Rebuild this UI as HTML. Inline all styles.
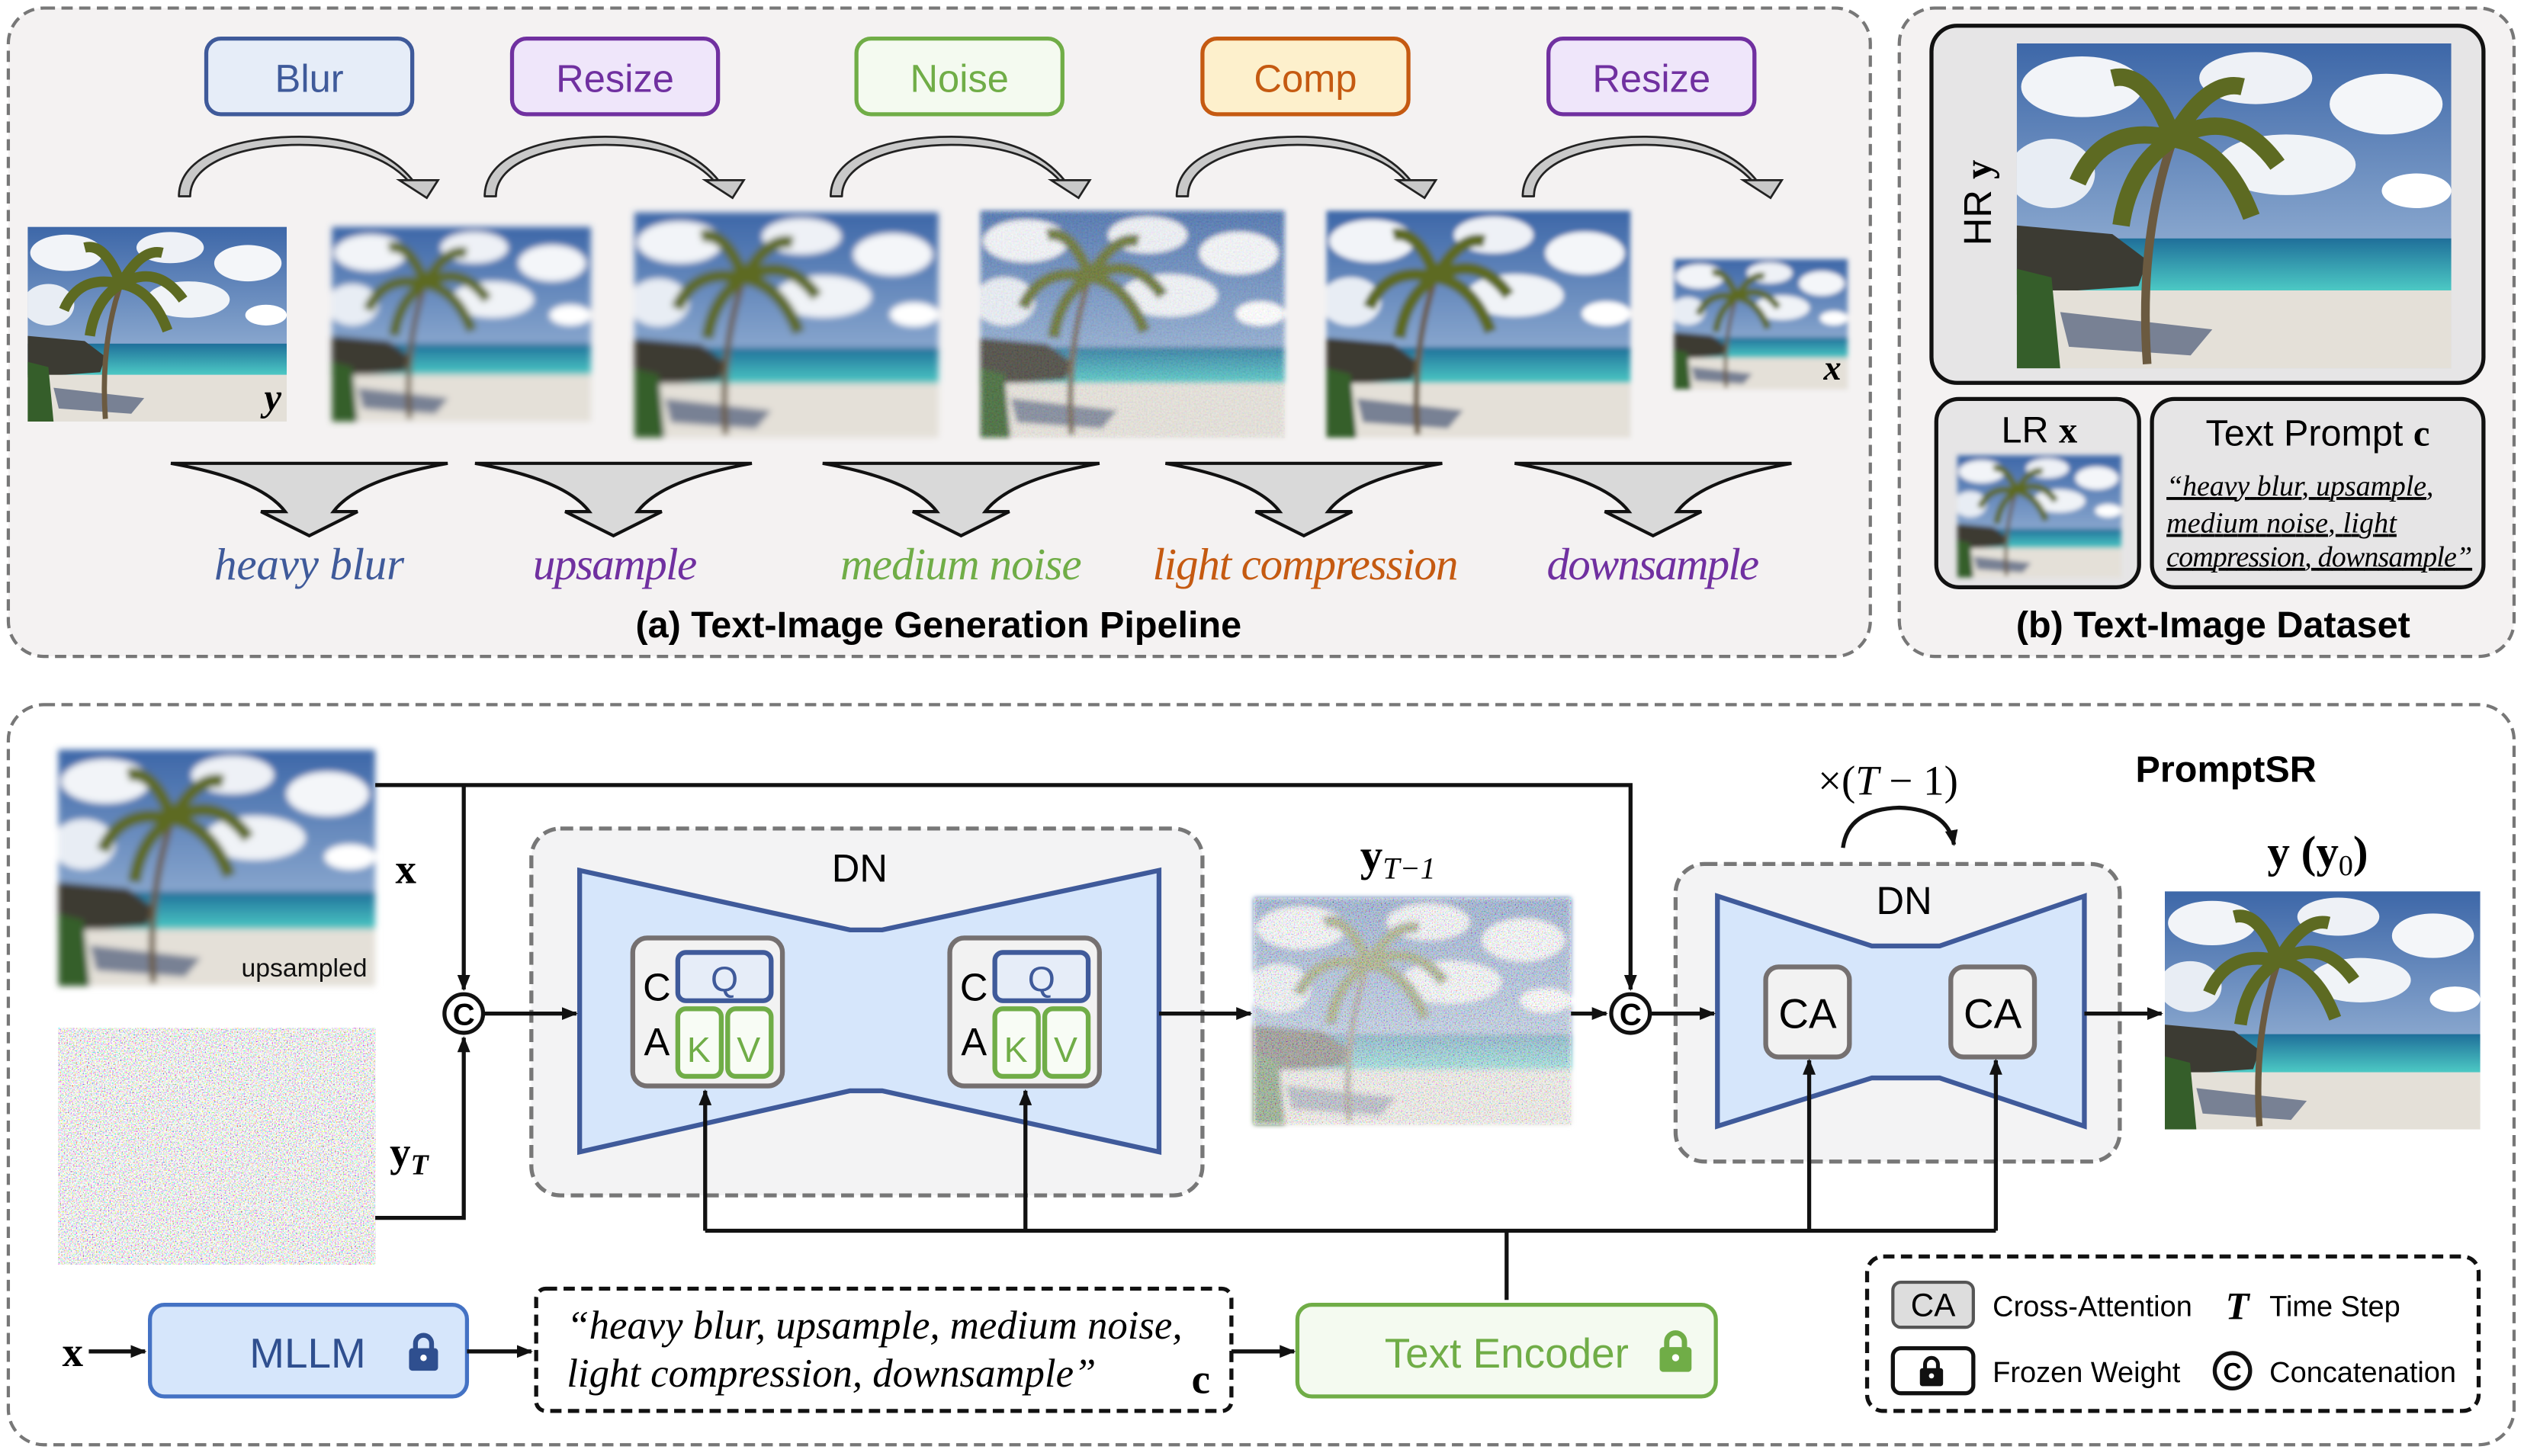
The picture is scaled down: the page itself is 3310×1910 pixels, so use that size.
<!DOCTYPE html>
<html><head><meta charset="utf-8"><style>html,body{margin:0;padding:0;background:#fff}svg{display:block}</style></head>
<body>
<svg width="3310" height="1910" viewBox="0 0 1568 905" xmlns="http://www.w3.org/2000/svg" font-family="Liberation Sans, sans-serif">
<defs>
<linearGradient id="sky" x1="0" y1="0" x2="0" y2="1"><stop offset="0" stop-color="#3d67a8"/><stop offset="1" stop-color="#b9cfe6"/></linearGradient>
<linearGradient id="sea" x1="0" y1="0" x2="0" y2="1"><stop offset="0" stop-color="#1f6f9a"/><stop offset="1" stop-color="#4cc9c4"/></linearGradient>
<symbol id="beach" viewBox="0 0 100 75" preserveAspectRatio="none">
<rect width="100" height="75" fill="url(#sky)"/>
<ellipse cx="15" cy="10" rx="14" ry="7" fill="#f2f4f8"/><ellipse cx="55" cy="8" rx="13" ry="6" fill="#eef1f6"/>
<ellipse cx="85" cy="14" rx="13" ry="7" fill="#f4f6f9"/><ellipse cx="8" cy="30" rx="10" ry="8" fill="#e8edf4"/>
<ellipse cx="62" cy="28" rx="16" ry="7" fill="#f0f3f7"/><ellipse cx="92" cy="34" rx="8" ry="4" fill="#fff"/>
<rect y="45" width="100" height="12" fill="url(#sea)"/>
<path d="M0 42 L22 44 L30 50 L28 56 L0 58Z" fill="#3c3b33"/>
<rect y="57" width="100" height="18" fill="#e4e0d8"/>
<path d="M0 52 L8 54 L10 75 L0 75Z" fill="#355e2a"/>
<path d="M10 62 L45 66 L40 72 L12 70Z" fill="#4a5878" opacity=".7"/>
<path d="M30 74 Q28 45 36 22" stroke="#6b5a40" stroke-width="2" fill="none"/>
<path d="M36 22 Q20 18 14 32 M36 22 Q50 14 60 28 M36 22 Q30 6 22 8 M36 22 Q44 8 52 10 M36 22 Q48 24 54 40 M36 22 Q26 28 24 42" stroke="#5d6a22" stroke-width="4" fill="none"/>
</symbol>
<filter id="b1"><feGaussianBlur stdDeviation="2"/></filter>
<filter id="b2"><feGaussianBlur stdDeviation="1.5"/></filter>
<filter id="nz" x="0" y="0" width="100%" height="100%"><feTurbulence type="fractalNoise" baseFrequency="0.9" numOctaves="2" seed="3"/><feColorMatrix type="matrix" values="1.6 0 0 0 -0.1  0 1.6 0 0 -0.1  0 0 1.6 0 -0.1  0 0 0 0 0.55"/></filter>
<filter id="nz2" x="0" y="0" width="100%" height="100%"><feTurbulence type="fractalNoise" baseFrequency="1.2" numOctaves="1" seed="7"/><feColorMatrix type="matrix" values="3 0 0 0 -0.6  0 3 0 0 -0.6  0 0 3 0 -0.6  0 0 0 0 1"/></filter>
<marker id="ah" markerWidth="10" markerHeight="10" refX="9" refY="5" orient="auto" markerUnits="userSpaceOnUse"><path d="M0 1 L10 5 L0 9Z" fill="#111"/></marker>
<symbol id="lock" viewBox="0 0 20 24"><path d="M5 11 V7 a5 5 0 0 1 10 0 V11" fill="none" stroke="currentColor" stroke-width="3"/><rect x="1" y="10" width="18" height="14" rx="2" fill="currentColor"/><circle cx="10" cy="16" r="2" fill="#fff"/></symbol>
<g id="arc"><path d="M0 37 C0 12 35 0 75 0 C108 0 132 10 146 28 L151 28 L154 37 L140 28 L143 28 C130 13 106 5 75 5 C42 5 7 15 7 37 Z" fill="#c9c9c9" stroke="#222" stroke-width="1.3" stroke-linejoin="round"/><path d="M137 27 L161 27 L154 38Z" fill="#c9c9c9" stroke="#222" stroke-width="1.3"/></g>
<g id="fun"><path d="M-86 0 L86 0 Q30 10 15 30 L30 30 L0 45 L-30 30 L-15 30 Q-30 10 -86 0Z" fill="#d9d9d9" stroke="#111" stroke-width="2"/></g>
</defs>

<!-- panel a -->
<rect x="5" y="5" width="1157" height="403" rx="22" fill="#f4f2f2" stroke="#777" stroke-width="2" stroke-dasharray="7 4"/>
<g font-size="24" text-anchor="middle">
<rect x="128" y="24" width="128" height="47" rx="9" fill="#e6edf8" stroke="#3f5a9a" stroke-width="2.5"/><text x="192" y="57" fill="#3f5a9a">Blur</text>
<rect x="318" y="24" width="128" height="47" rx="9" fill="#efe6fa" stroke="#7030a0" stroke-width="2.5"/><text x="382" y="57" fill="#7030a0">Resize</text>
<rect x="532" y="24" width="128" height="47" rx="9" fill="#f4faf0" stroke="#70ad47" stroke-width="2.5"/><text x="596" y="57" fill="#70ad47">Noise</text>
<rect x="747" y="24" width="128" height="47" rx="9" fill="#fdf0cc" stroke="#c55a11" stroke-width="2.5"/><text x="811" y="57" fill="#c55a11">Comp</text>
<rect x="962" y="24" width="128" height="47" rx="9" fill="#efe6fa" stroke="#7030a0" stroke-width="2.5"/><text x="1026" y="57" fill="#7030a0">Resize</text>
</g>
<use href="#arc" x="111" y="85"/><use href="#arc" x="301" y="85"/><use href="#arc" x="516" y="85"/><use href="#arc" x="731" y="85"/><use href="#arc" x="946" y="85"/>
<use href="#beach" x="17" y="141" width="161" height="121"/>
<text x="164" y="255" font-family="Liberation Serif, serif" font-style="italic" font-weight="bold" font-size="24">y</text>
<g filter="url(#b1)"><use href="#beach" x="206" y="141" width="161" height="121"/></g>
<g filter="url(#b1)"><use href="#beach" x="394" y="132" width="189" height="140"/></g>
<use href="#beach" x="609" y="131" width="189" height="141" filter="url(#b2)"/><rect x="609" y="131" width="189" height="141" filter="url(#nz)" opacity=".35"/>
<use href="#beach" x="824" y="131" width="189" height="141" filter="url(#b2)"/>
<use href="#beach" x="1040" y="161" width="108" height="81" filter="url(#b2)"/>
<text x="1133" y="236" font-family="Liberation Serif, serif" font-style="italic" font-weight="bold" font-size="22">x</text>
<use href="#fun" x="192" y="288"/><use href="#fun" x="381" y="288"/><use href="#fun" x="597" y="288"/><use href="#fun" x="810" y="288"/><use href="#fun" x="1027" y="288"/>
<g font-family="Liberation Serif, serif" font-style="italic" font-size="28" text-anchor="middle">
<text x="192" y="360" fill="#3f5a9a" textLength="118">heavy blur</text><text x="382" y="360" fill="#7030a0" textLength="102">upsample</text>
<text x="597" y="360" fill="#70ad47" textLength="150">medium noise</text><text x="811" y="360" fill="#c55a11" textLength="190">light compression</text>
<text x="1027" y="360" fill="#7030a0" textLength="132">downsample</text></g>
<text x="583" y="396" font-size="23" font-weight="bold" text-anchor="middle">(a) Text-Image Generation Pipeline</text>

<!-- panel b -->
<rect x="1180" y="5" width="382" height="403" rx="22" fill="#f4f2f2" stroke="#777" stroke-width="2" stroke-dasharray="7 4"/>
<rect x="1200" y="16" width="343" height="222" rx="16" fill="#e6e5e6" stroke="#111" stroke-width="2.5"/>
<use href="#beach" x="1253" y="27" width="270" height="202"/>
<text transform="translate(1237,126) rotate(-90)" font-size="24" text-anchor="middle">HR <tspan font-family="Liberation Serif, serif" font-weight="bold">y</tspan></text>
<rect x="1203" y="248" width="126" height="117" rx="14" fill="#e6e5e6" stroke="#111" stroke-width="2.5"/>
<text x="1267" y="275" font-size="23" text-anchor="middle">LR <tspan font-family="Liberation Serif, serif" font-weight="bold">x</tspan></text>
<use href="#beach" x="1216" y="283" width="102" height="76" filter="url(#b2)"/>
<rect x="1337" y="248" width="206" height="117" rx="14" fill="#e6e5e6" stroke="#111" stroke-width="2.5"/>
<text x="1440" y="277" font-size="23" text-anchor="middle">Text Prompt <tspan font-family="Liberation Serif, serif" font-weight="bold">c</tspan></text>
<g font-family="Liberation Serif, serif" font-style="italic" font-size="18" text-decoration="underline">
<text x="1346" y="308" textLength="166">“heavy blur, upsample,</text><text x="1346" y="331" textLength="143">medium noise, light</text><text x="1346" y="352" textLength="190">compression, downsample”</text></g>
<text x="1375" y="396" font-size="23" font-weight="bold" text-anchor="middle">(b) Text-Image Dataset</text>

<!-- bottom -->
<rect x="5" y="438" width="1557" height="460" rx="22" fill="#fff" stroke="#777" stroke-width="2" stroke-dasharray="7 4"/>
<use href="#beach" x="36" y="466" width="197" height="147" filter="url(#b1)"/>
<text x="228" y="607" font-size="16" text-anchor="end" fill="#111">upsampled</text>
<text x="252" y="549" font-family="Liberation Serif, serif" font-weight="bold" font-size="26" text-anchor="middle">x</text>
<rect x="36" y="639" width="197" height="147" fill="#fff"/>
<rect x="36" y="639" width="197" height="147" filter="url(#nz2)"/>
<text x="242" y="725" font-family="Liberation Serif, serif" font-weight="bold" font-size="26">y<tspan font-style="italic" font-size="18" dy="5">T</tspan></text>

<rect x="330" y="515" width="417" height="228" rx="18" fill="#f3f3f4" stroke="#777" stroke-width="2.5" stroke-dasharray="8 4"/>
<text x="534" y="548" font-size="24" text-anchor="middle">DN</text>
<path d="M360 541 L528 578 L548 578 L720 541 L720 716 L548 678 L528 678 L360 716Z" fill="#d6e6fb" stroke="#3f5a9a" stroke-width="3"/>
<g id="cab">
<rect x="393" y="583" width="93" height="92" rx="9" fill="#f2f2f2" stroke="#757070" stroke-width="3"/>
<rect x="421" y="592" width="58" height="30" rx="5" fill="#e6edf8" stroke="#3f5a9a" stroke-width="3"/>
<rect x="421" y="627" width="27" height="42" rx="5" fill="#f8fcf5" stroke="#70ad47" stroke-width="3"/>
<rect x="452" y="627" width="27" height="42" rx="5" fill="#f8fcf5" stroke="#70ad47" stroke-width="3"/>
<text x="408" y="622" font-size="24" text-anchor="middle">C</text><text x="408" y="656" font-size="24" text-anchor="middle">A</text>
<text x="450" y="616" font-size="22" text-anchor="middle" fill="#3f5a9a">Q</text>
<text x="434" y="660" font-size="22" text-anchor="middle" fill="#70ad47">K</text>
<text x="465" y="660" font-size="22" text-anchor="middle" fill="#70ad47">V</text>
</g>
<use href="#cab" x="197"/>

<use href="#beach" x="779" y="558" width="197" height="141" filter="url(#b2)"/>
<rect x="779" y="558" width="197" height="141" filter="url(#nz2)" opacity=".6"/>
<text x="845" y="541" font-family="Liberation Serif, serif" font-weight="bold" font-size="28">y<tspan font-style="italic" font-weight="normal" font-size="19" dy="5">T−1</tspan></text>

<text x="1173" y="494" font-family="Liberation Serif, serif" font-size="26" text-anchor="middle">×(<tspan font-style="italic">T</tspan> − 1)</text>
<rect x="1041" y="537" width="276" height="185" rx="18" fill="#f3f3f4" stroke="#777" stroke-width="2.5" stroke-dasharray="8 4"/>
<text x="1183" y="568" font-size="24" text-anchor="middle">DN</text>
<path d="M1067 557 L1163 588 L1205 588 L1295 557 L1295 700 L1205 670 L1163 670 L1067 700Z" fill="#d6e6fb" stroke="#3f5a9a" stroke-width="3"/>
<rect x="1097" y="601" width="52" height="56" rx="8" fill="#f2f2f2" stroke="#757070" stroke-width="3"/>
<rect x="1212" y="601" width="52" height="56" rx="8" fill="#f2f2f2" stroke="#757070" stroke-width="3"/>
<text x="1123" y="639" font-size="26" text-anchor="middle">CA</text><text x="1238" y="639" font-size="26" text-anchor="middle">CA</text>

<text x="1383" y="486" font-size="23" font-weight="bold" text-anchor="middle">PromptSR</text>
<text x="1440" y="539" font-family="Liberation Serif, serif" font-weight="bold" font-size="28" text-anchor="middle">y (y<tspan font-size="18" font-weight="normal" dy="5">0</tspan><tspan dy="-5">)</tspan></text>
<use href="#beach" x="1345" y="554" width="196" height="148"/>

<text x="45" y="849" font-family="Liberation Serif, serif" font-weight="bold" font-size="26" text-anchor="middle">x</text>
<rect x="93" y="811" width="197" height="57" rx="9" fill="#d6e6fb" stroke="#4472c4" stroke-width="2.5"/>
<text x="191" y="850" font-size="26" text-anchor="middle" fill="#2f4f8f">MLLM</text>
<use href="#lock" x="253" y="826" width="20" height="28" color="#2f4f8f"/>
<rect x="333" y="801" width="432" height="76" rx="6" fill="#fff" stroke="#111" stroke-width="2.5" stroke-dasharray="7 4"/>
<g font-family="Liberation Serif, serif" font-style="italic" font-size="25"><text x="352" y="832">“heavy blur, upsample, medium noise,</text><text x="352" y="862">light compression, downsample”</text></g>
<text x="746" y="866" font-family="Liberation Serif, serif" font-weight="bold" font-size="26" text-anchor="middle">c</text>
<rect x="806" y="811" width="260" height="57" rx="9" fill="#f4faf0" stroke="#70ad47" stroke-width="2.5"/>
<text x="936" y="850" font-size="26" text-anchor="middle" fill="#70ad47">Text Encoder</text>
<use href="#lock" x="1030" y="825" width="22" height="29" color="#70ad47"/>

<rect x="1160" y="781" width="380" height="96" rx="10" fill="#fff" stroke="#111" stroke-width="2.5" stroke-dasharray="7 4"/>
<rect x="1176" y="797" width="50" height="28" rx="5" fill="#ddd" stroke="#555" stroke-width="2"/>
<text x="1201" y="818" font-size="20" text-anchor="middle">CA</text>
<text x="1238" y="818" font-size="18">Cross-Attention</text>
<text x="1390" y="820" font-family="Liberation Serif, serif" font-style="italic" font-weight="bold" font-size="24" text-anchor="middle">T</text>
<text x="1410" y="818" font-size="18">Time Step</text>
<rect x="1176" y="838" width="50" height="28" rx="5" fill="#fff" stroke="#111" stroke-width="2.5"/>
<use href="#lock" x="1192" y="841" width="16" height="22" color="#111"/>
<text x="1238" y="859" font-size="18">Frozen Weight</text>
<circle cx="1387" cy="852" r="11" fill="#fff" stroke="#111" stroke-width="2.5"/>
<text x="1387" y="858" font-size="16" font-weight="bold" text-anchor="middle">C</text>
<text x="1410" y="859" font-size="18">Concatenation</text>

<!-- connectors on top -->
<g stroke="#111" stroke-width="2.5" fill="none">
<path d="M233 488 H1013 V615" marker-end="url(#ah)"/>
<path d="M288 488 V615" marker-end="url(#ah)"/>
<path d="M233 757 H288 V645" marker-end="url(#ah)"/>
<path d="M301 630 H358" marker-end="url(#ah)"/>
<path d="M720 630 H777" marker-end="url(#ah)"/>
<path d="M976 630 H998" marker-end="url(#ah)"/>
<path d="M1026 630 H1065" marker-end="url(#ah)"/>
<path d="M1295 630 H1343" marker-end="url(#ah)"/>
<path d="M936 808 V765 M438 765 H1240"/>
<path d="M438 765 V678" marker-end="url(#ah)"/><path d="M637 765 V678" marker-end="url(#ah)"/>
<path d="M1124 765 V659" marker-end="url(#ah)"/><path d="M1240 765 V659" marker-end="url(#ah)"/>
<path d="M55 840 H90" marker-end="url(#ah)"/>
<path d="M290 840 H330" marker-end="url(#ah)"/>
<path d="M765 840 H804" marker-end="url(#ah)"/>
<path d="M1145 527 Q1148 503 1180 502 Q1210 503 1214 525" marker-end="url(#ah)"/>
</g>
<g fill="#fff" stroke="#111" stroke-width="2.5"><circle cx="288" cy="630" r="12"/><circle cx="1013" cy="630" r="12"/></g>
<g font-size="19" font-weight="bold" text-anchor="middle"><text x="288" y="637">C</text><text x="1013" y="637">C</text></g>
</svg>
</body></html>
